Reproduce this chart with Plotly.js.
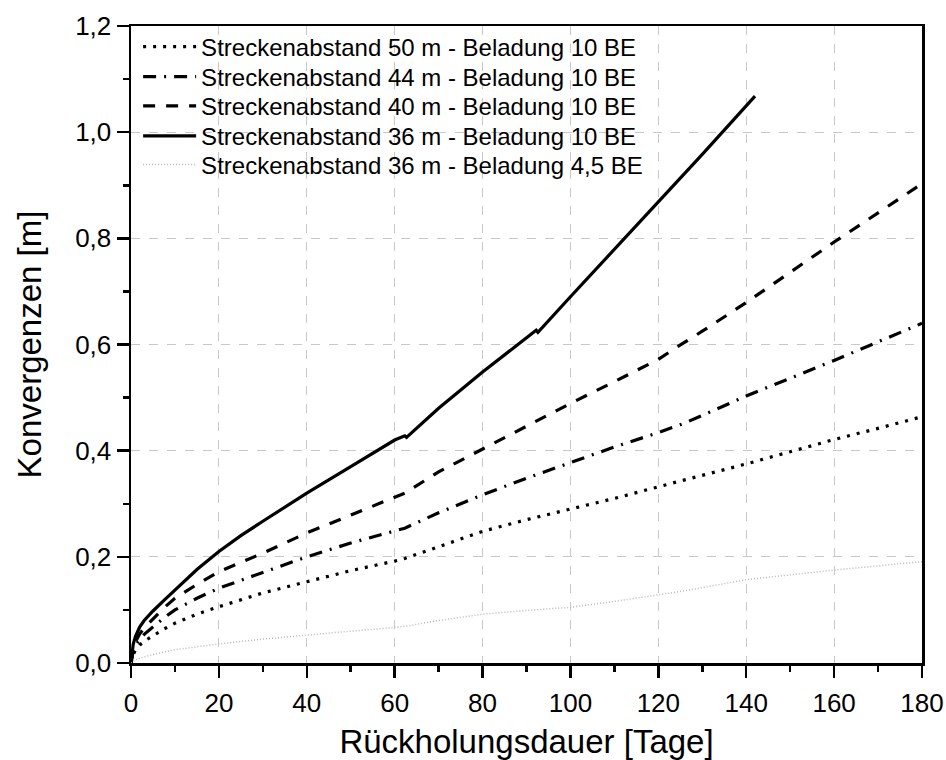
<!DOCTYPE html>
<html>
<head>
<meta charset="utf-8">
<script src="https://cdn.plot.ly/plotly-3.0.1.min.js"></script>
<style>html,body{margin:0;padding:0;background:#fff;}#chart{width:946px;height:760px;}</style>
</head>
<body>
<div id="chart"></div>
<script>
// Series names
const names = [
  "Streckenabstand 50 m - Beladung 10 BE",
  "Streckenabstand 44 m - Beladung 10 BE",
  "Streckenabstand 40 m - Beladung 10 BE",
  "Streckenabstand 36 m - Beladung 10 BE",
  "Streckenabstand 36 m - Beladung 4,5 BE"
];

// 50 m - 10 BE (dotted)
const x50 = [0, 0.5, 1, 2, 3, 5, 7.5, 10, 15, 20, 30, 40, 50, 60, 62.3, 70, 80, 90, 100, 110, 120, 130, 140, 150, 160, 170, 180];
const y50 = [0, 0.016, 0.024, 0.034, 0.041, 0.052, 0.064, 0.075, 0.092, 0.106, 0.132, 0.153, 0.174, 0.192, 0.197, 0.219, 0.248, 0.27, 0.29, 0.31, 0.332, 0.353, 0.375, 0.398, 0.421, 0.442, 0.464];

// 44 m - 10 BE (dash-dot)
const x44 = [0, 0.5, 1, 2, 3, 5, 7.5, 10, 15, 20, 30, 40, 50, 60, 62.3, 70, 80, 90, 100, 110, 120, 126, 140, 150, 160, 170, 180];
const y44 = [0, 0.022, 0.032, 0.045, 0.054, 0.068, 0.085, 0.1, 0.122, 0.141, 0.17, 0.2, 0.226, 0.248, 0.254, 0.283, 0.317, 0.348, 0.378, 0.407, 0.434, 0.452, 0.503, 0.536, 0.57, 0.605, 0.64];

// 40 m - 10 BE (dashed)
const x40 = [0, 0.5, 1, 2, 3, 5, 7.5, 10, 15, 20, 30, 40, 50, 60, 62.3, 70, 80, 90, 100, 110, 120, 124, 130, 140, 150, 160, 170, 180];
const y40 = [0, 0.028, 0.04, 0.055, 0.066, 0.083, 0.104, 0.122, 0.148, 0.172, 0.207, 0.245, 0.279, 0.313, 0.32, 0.36, 0.403, 0.446, 0.489, 0.53, 0.572, 0.594, 0.625, 0.679, 0.736, 0.793, 0.848, 0.903];

// 36 m - 10 BE (solid)
const x36 = [0, 0.5, 1, 2, 3, 5, 7.5, 10, 15, 20, 25, 30, 40, 50, 60, 62.3, 62.7, 70, 80, 92.2, 92.6, 100, 110, 120, 130, 142];
const y36 = [0, 0.035, 0.05, 0.068, 0.08, 0.098, 0.118, 0.138, 0.176, 0.21, 0.24, 0.267, 0.32, 0.37, 0.42, 0.428, 0.425, 0.48, 0.548, 0.627, 0.623, 0.69, 0.779, 0.867, 0.958, 1.068];

// 36 m - 4,5 BE (light dotted)
const x36b = [0, 1, 2, 5, 10, 20, 30, 40, 50, 60, 62.3, 70, 80, 90, 100, 110, 120, 126, 140, 160, 180];
const y36b = [0, 0.006, 0.009, 0.016, 0.025, 0.036, 0.045, 0.053, 0.06, 0.067, 0.069, 0.08, 0.092, 0.099, 0.105, 0.116, 0.128, 0.136, 0.157, 0.175, 0.191];

const FONT = "Liberation Sans, Arial, sans-serif";

const traces = [
  {x: x50, y: y50, name: names[0], legend: "legend", mode: "lines", line: {color: "#000", width: 3.2, dash: "3px,7px"}},
  {x: x44, y: y44, name: names[1], legend: "legend2", mode: "lines", line: {color: "#000", width: 3.2, dash: "13px,8px,2px,8px"}},
  {x: x40, y: y40, name: names[2], legend: "legend3", mode: "lines", line: {color: "#000", width: 3.2, dash: "12px,11px"}},
  {x: x36, y: y36, name: names[3], legend: "legend4", mode: "lines", line: {color: "#000", width: 3.2}},
  {x: x36b, y: y36b, name: names[4], legend: "legend5", mode: "lines", line: {color: "#b8b8b8", width: 1.5, dash: "1px,2px"}}
];

const axisCommon = {
  showline: true, linecolor: "#000", linewidth: 2.5, mirror: true,
  ticks: "outside", ticklen: 12, tickwidth: 2.5, tickcolor: "#000",
  showgrid: true, gridcolor: "#c8c8c8", gridwidth: 1, griddash: "dash",
  zeroline: false,
  tickfont: {family: FONT, size: 26, color: "#000"},
  minor: {ticks: "outside", ticklen: 6, tickwidth: 2.5, tickcolor: "#000", showgrid: false}
};

function leg(y) {
  return {
    x: 0.009, y: y, xanchor: "left", yanchor: "middle",
    bgcolor: "rgba(255,255,255,0)", borderwidth: 0,
    font: {family: FONT, size: 24, color: "#000"},
    itemwidth: 53, tracegroupgap: 0
  };
}

const layout = {
  width: 946, height: 760,
  margin: {l: 131, r: 24, t: 26, b: 97},
  paper_bgcolor: "#fff", plot_bgcolor: "#fff",
  separators: ",.",
  showlegend: true,
  font: {family: FONT, color: "#000"},
  xaxis: Object.assign({}, axisCommon, {
    range: [0, 180], dtick: 20, tick0: 0,
    ticklabelstandoff: 3,
    minor: Object.assign({}, axisCommon.minor, {dtick: 10}),
    title: {text: "Rückholungsdauer [Tage]", font: {family: FONT, size: 33, color: "#000"}, standoff: 18}
  }),
  yaxis: Object.assign({}, axisCommon, {
    range: [0, 1.2], dtick: 0.2, tick0: 0, tickformat: ".1f",
    minor: Object.assign({}, axisCommon.minor, {dtick: 0.1}),
    title: {text: "Konvergenzen [m]", font: {family: FONT, size: 33, color: "#000"}, standoff: 24}
  }),
  legend: leg(0.967),
  legend2: leg(0.920),
  legend3: leg(0.874),
  legend4: leg(0.827),
  legend5: leg(0.782)
};

Plotly.newPlot("chart", traces, layout, {displayModeBar: false, staticPlot: true});
</script>
</body>
</html>
